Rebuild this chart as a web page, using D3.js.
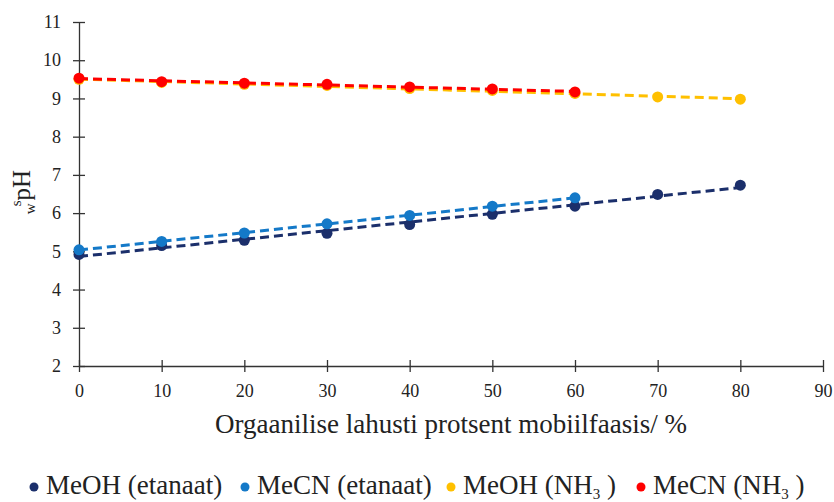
<!DOCTYPE html>
<html>
<head>
<meta charset="utf-8">
<script src="https://cdn.jsdelivr.net/npm/d3@7"></script>
<style>
  body { margin: 0; background: #fff; }
</style>
</head>
<body>
<div id="app"></div>
<script>
const percents = [0, 10, 20, 30, 40, 50, 60, 70, 80]
const meohEtanaat = [4.92, 5.15, 5.29, 5.47, 5.70, 5.97, 6.18, 6.49, 6.73]
const mecnEtanaat = [5.04, 5.26, 5.48, 5.72, 5.94, 6.18, 6.40]
const meohNH3 = [9.50, 9.42, 9.37, 9.34, 9.26, 9.21, 9.13, 9.04, 8.98]
const mecnNH3 = [9.53, 9.44, 9.40, 9.37, 9.30, 9.25, 9.17]
const xTicks = [0, 10, 20, 30, 40, 50, 60, 70, 80, 90]
const yTicks = [2, 3, 4, 5, 6, 7, 8, 9, 10, 11]

const series = [
  { name: 'MeOH (etanaat)', sub: null, color: '#1b2f6b', values: meohEtanaat },
  { name: 'MeCN (etanaat)', sub: null, color: '#1479c8', values: mecnEtanaat },
  { name: 'MeOH (NH', sub: '3', color: '#ffc000', values: meohNH3 },
  { name: 'MeCN (NH', sub: '3', color: '#ff0000', values: mecnNH3 }
]

const FONT = '"Liberation Serif", "Times New Roman", serif'
const w = 834, h = 502
const padLeft = 79, padRight = 823, padTop = 22, padBottom = 366

const svg = d3.select('#app').append('svg')
  .attr('width', w).attr('height', h)

const x = d3.scaleLinear().domain([0, 90]).range([padLeft, padRight])
const y = d3.scaleLinear().domain([2, 11]).range([padBottom, padTop])

// axes, ticks cross the line
const xAxis = svg.append('g')
  .attr('transform', 'translate(0,' + padBottom + ')')
  .call(d3.axisBottom(x).tickValues(xTicks).tickSize(6).tickSizeOuter(0).tickPadding(12))
xAxis.selectAll('.tick line').attr('y1', -6)
const yAxis = svg.append('g')
  .attr('transform', 'translate(' + padLeft + ',0)')
  .call(d3.axisLeft(y).tickValues(yTicks).tickSize(6).tickSizeOuter(0).tickPadding(12))
yAxis.selectAll('.tick line').attr('x1', 6)
svg.selectAll('.domain, .tick line').attr('stroke', '#333').attr('stroke-width', 1.3)
svg.selectAll('.tick text').style('font-size', '18px').attr('fill', '#222')
  .style('font-family', FONT)

// linear trendline for each series
function trend(vals) {
  const xs = percents.slice(0, vals.length)
  const mx = d3.mean(xs), my = d3.mean(vals)
  const slope = d3.sum(xs, (d, i) => (d - mx) * (vals[i] - my)) / d3.sum(xs, d => (d - mx) * (d - mx))
  const b = my - slope * mx
  return [[xs[0], b + slope * xs[0]], [xs[xs.length - 1], b + slope * xs[xs.length - 1]]]
}

series.forEach(s => {
  const g = svg.append('g')
  g.append('path')
    .datum(trend(s.values))
    .attr('d', d3.line().x(d => x(d[0])).y(d => y(d[1])))
    .attr('fill', 'none')
    .attr('stroke', s.color)
    .attr('stroke-width', 3)
    .attr('stroke-dasharray', '9,5')
  g.selectAll('circle')
    .data(s.values)
    .enter().append('circle')
    .attr('cx', (d, i) => x(percents[i]))
    .attr('cy', d => y(d))
    .attr('r', 5.5)
    .attr('fill', s.color)
})

// axis titles
svg.append('text')
  .attr('x', 451).attr('y', 433)
  .attr('text-anchor', 'middle')
  .style('font-family', FONT)
  .style('font-size', '27px')
  .attr('fill', '#222')
  .text('Orgaanilise lahusti protsent mobiilfaasis/ %')

const yl = svg.append('text')
  .attr('transform', 'translate(30,192) rotate(-90)')
  .attr('text-anchor', 'middle')
  .style('font-family', FONT)
  .style('font-size', '25px')
  .attr('fill', '#222')
yl.append('tspan').text('w').style('font-size', '15px').attr('dy', 5)
yl.append('tspan').text('s').style('font-size', '15px').attr('dx', -3).attr('dy', -14)
yl.append('tspan').text('pH').attr('dy', 9)

// legend
const legendX = [34, 245, 451, 641]
const legend = svg.append('g')
series.forEach((s, i) => {
  legend.append('circle')
    .attr('cx', legendX[i]).attr('cy', 487)
    .attr('r', 4.5).attr('fill', s.color)
  const t = legend.append('text')
    .attr('x', legendX[i] + 12).attr('y', 494)
    .style('font-family', FONT)
    .style('font-size', '27px')
    .attr('fill', '#222')
  t.append('tspan').text(s.name)
  if (s.sub) {
    t.append('tspan').text(s.sub).style('font-size', '15px').attr('dy', 5)
    t.append('tspan').text(' )').attr('dy', -5)
  }
})
</script>
</body>
</html>
